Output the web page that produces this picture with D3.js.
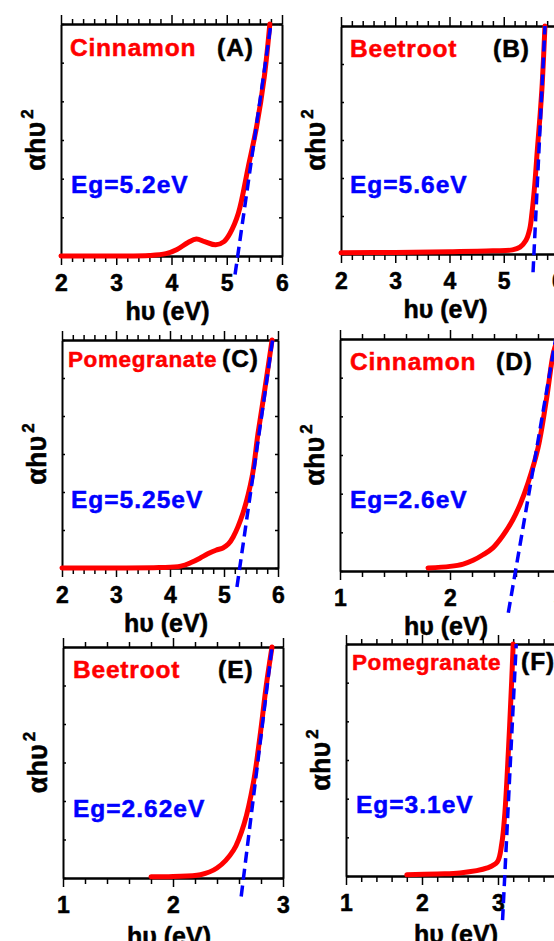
<!DOCTYPE html>
<html>
<head>
<meta charset="utf-8">
<script src="https://cdnjs.cloudflare.com/ajax/libs/d3/7.8.5/d3.min.js"></script>
<style>
body { margin: 0; background: #fff; }
svg { display: block; font-family: "Liberation Sans", Arial, sans-serif; font-weight: bold; }
.xmaj text { font-size: 23px; font-weight: bold; font-family: "Liberation Sans", Arial, sans-serif; }
.heavy { stroke-width: 0.5px; }
</style>
</head>
<body>
<svg id="chart" width="554" height="941"></svg>
<script>
// labels
var samples = ["Cinnamon", "Beetroot", "Pomegranate", "Cinnamon", "Beetroot", "Pomegranate"];
var letters = ["(A)", "(B)", "(C)", "(D)", "(E)", "(F)"];
var gapLabels = ["Eg=5.2eV", "Eg=5.6eV", "Eg=5.25eV", "Eg=2.6eV", "Eg=2.62eV", "Eg=3.1eV"];
var xDomains = [[2, 6], [2, 6], [2, 6], [1, 3], [1, 3], [1, 4]];

// (alpha h nu)^2 curves, normalised to the plot height
var aX = [2.0, 3.0, 3.6, 3.9, 4.1, 4.3, 4.45, 4.6, 4.8, 4.95, 5.06, 5.21, 5.39, 5.54, 5.68, 5.78];
var aY = [0, 0, 0.002, 0.01, 0.028, 0.058, 0.073, 0.062, 0.048, 0.062, 0.098, 0.184, 0.385, 0.557, 0.773, 1.0];
var bX = [2.0, 3.0, 4.0, 4.8, 5.16, 5.3, 5.41, 5.48, 5.52, 5.57, 5.62, 5.67, 5.71, 5.76];
var bY = [0.005, 0.007, 0.01, 0.014, 0.018, 0.03, 0.06, 0.11, 0.18, 0.3, 0.46, 0.61, 0.75, 1.0];
var cX = [2.0, 3.0, 3.8, 4.2, 4.4, 4.56, 4.7, 4.85, 4.98, 5.08, 5.17, 5.35, 5.52, 5.63, 5.76, 5.89];
var cY = [0, 0, 0.002, 0.008, 0.025, 0.044, 0.062, 0.078, 0.088, 0.105, 0.136, 0.24, 0.40, 0.59, 0.79, 1.0];
var dX = [1.8, 2.0, 2.12, 2.21, 2.3, 2.39, 2.48, 2.57, 2.64, 2.71, 2.8, 2.88, 2.94, 2.98];
var dY = [0.013, 0.02, 0.03, 0.046, 0.07, 0.10, 0.152, 0.22, 0.29, 0.38, 0.53, 0.75, 0.94, 1.0];
var eX = [1.8, 2.0, 2.25, 2.4, 2.55, 2.65, 2.73, 2.79, 2.85, 2.9];
var eY = [0.005, 0.007, 0.014, 0.043, 0.12, 0.24, 0.41, 0.61, 0.84, 1.0];
var fX = [1.8, 2.2, 2.5, 2.86, 2.99, 3.05, 3.09, 3.14, 3.18, 3.2];
var fY = [0.005, 0.009, 0.013, 0.035, 0.06, 0.14, 0.27, 0.56, 0.84, 1.0];

// linear fits (tauc extrapolation), end points
var fitX = [[5.15, 5.80], [5.54, 5.76], [5.24, 5.90], [2.53, 2.96], [2.62, 2.90], [3.06, 3.24]];
var fitY = [[-0.08, 1.0], [-0.08, 1.0], [-0.083, 1.0], [-0.18, 1.0], [-0.08, 1.0], [-0.19, 1.0]];

var curvesX = [aX, bX, cX, dX, eX, fX];
var curvesY = [aY, bY, cY, dY, eY, fY];

// panel boxes and text spots
var layout = [
    {l: 61, r: 282, t: 24, b: 256, name: [70, 56], letter: [217, 56], eg: [71, 193], nameSize: 24.5},
    {l: 341, r: 558, t: 26, b: 254, name: [350, 57], letter: [493, 57], eg: [350, 193], nameSize: 24.5},
    {l: 62, r: 278, t: 340, b: 568, name: [68, 367], letter: [222, 367], eg: [71, 508], nameSize: 22.5},
    {l: 340, r: 560, t: 339, b: 571, name: [350, 370], letter: [496, 370], eg: [350, 508], nameSize: 24.5},
    {l: 63, r: 283, t: 647, b: 878, name: [73, 678], letter: [218, 678], eg: [73, 817], nameSize: 24.5},
    {l: 346, r: 574, t: 644, b: 876, name: [352, 670], letter: [521, 670], eg: [356, 813], nameSize: 22.5}
];

var svg = d3.select("#chart");

layout.forEach(function(p, i) {
    var g = svg.append("g");
    var dom = xDomains[i];

    var x = d3.scaleLinear().domain(dom).range([p.l, p.r]);
    var y = d3.scaleLinear().domain([0, 1]).range([p.b, p.t]);

    var majors = d3.range(dom[0], dom[1] + 0.001, 1);
    var minors = d3.range(dom[0], dom[1] + 0.001, 0.2).filter(function(v) {
        return Math.abs(v - Math.round(v)) > 0.01;
    });
    var yTicks = d3.range(0, 1.001, 1 / 6);

    // bottom axis
    g.append("g").attr("transform", "translate(0," + p.b + ")")
        .call(d3.axisBottom(x).tickValues(minors).tickSize(6).tickFormat("").tickSizeOuter(0));
    g.append("g").attr("class", "xmaj").attr("transform", "translate(0," + p.b + ")")
        .call(d3.axisBottom(x).tickValues(majors).tickSize(9).tickPadding(10).tickFormat(d3.format("d")).tickSizeOuter(0))
        .attr("font-size", null).attr("font-family", null);
    // top axis
    g.append("g").attr("transform", "translate(0," + p.t + ")")
        .call(d3.axisTop(x).tickValues(minors).tickSize(5).tickFormat("").tickSizeOuter(0));
    g.append("g").attr("transform", "translate(0," + p.t + ")")
        .call(d3.axisTop(x).tickValues(majors).tickSize(9).tickFormat("").tickSizeOuter(0));
    // side axes, small inward ticks
    g.append("g").attr("transform", "translate(" + p.l + ",0)")
        .call(d3.axisLeft(y).tickValues(yTicks).tickSize(-3).tickFormat("").tickSizeOuter(0));
    g.append("g").attr("transform", "translate(" + p.r + ",0)")
        .call(d3.axisRight(y).tickValues(yTicks).tickSize(-3).tickFormat("").tickSizeOuter(0));

    g.selectAll(".domain").attr("stroke", "#000").attr("stroke-width", 2);
    g.selectAll(".tick line").attr("stroke", "#000").attr("stroke-width", 1.5);
    g.selectAll(".xmaj text").attr("fill", "#000").attr("stroke", "#000").attr("class", "heavy");

    // curve
    var pts = curvesX[i].map(function(v, k) { return [v, curvesY[i][k]]; });
    var line = d3.line()
        .x(function(d) { return x(d[0]); })
        .y(function(d) { return y(d[1]); })
        .curve(d3.curveCatmullRom.alpha(0.5));
    g.append("path").datum(pts).attr("d", line)
        .attr("fill", "none").attr("stroke", "#ff0000").attr("stroke-width", 5)
        .attr("stroke-linejoin", "round").attr("stroke-linecap", "round");

    // fitted line
    var fit = fitX[i].map(function(v, k) { return [v, fitY[i][k]]; });
    g.append("path").datum(fit).attr("d", d3.line().x(function(d) { return x(d[0]); }).y(function(d) { return y(d[1]); }))
        .attr("fill", "none").attr("stroke", "#0000ff").attr("stroke-width", 3.5)
        .attr("stroke-dasharray", "11,6");

    // texts
    g.append("text").attr("class", "heavy").attr("x", p.name[0]).attr("y", p.name[1])
        .attr("fill", "#ff0000").attr("stroke", "#ff0000").style("font-size", p.nameSize + "px")
        .style("letter-spacing", (p.nameSize < 24 ? 0.6 : 0.8) + "px")
        .text(samples[i]);
    g.append("text").attr("class", "heavy").attr("x", p.letter[0]).attr("y", p.letter[1])
        .attr("fill", "#000").attr("stroke", "#000").style("font-size", "24.5px").style("letter-spacing", "1px")
        .text(letters[i]);
    g.append("text").attr("class", "heavy").attr("x", p.eg[0]).attr("y", p.eg[1])
        .attr("fill", "#0000ff").attr("stroke", "#0000ff").style("font-size", "24.5px").style("letter-spacing", "1px")
        .text(gapLabels[i]);

    // axis titles
    g.append("text").attr("class", "heavy").attr("x", (p.l + p.r) / 2 - 4).attr("y", p.b + (i >= 4 ? 67 : 64))
        .attr("text-anchor", "middle").attr("fill", "#000").attr("stroke", "#000").style("font-size", "25px")
        .text("h\u03c5 (eV)");
    var yl = g.append("text").attr("class", "heavy")
        .attr("transform", "translate(" + (p.l - 16) + "," + ((p.t + p.b) / 2) + ") rotate(-90)")
        .attr("text-anchor", "middle").attr("fill", "#000").attr("stroke", "#000").style("font-size", "27px");
    yl.append("tspan").text("\u03b1h\u03c5");
    yl.append("tspan").attr("dy", "-0.7em").attr("dx", "3").style("font-size", "17px").text("2");
});
</script>
</body>
</html>
